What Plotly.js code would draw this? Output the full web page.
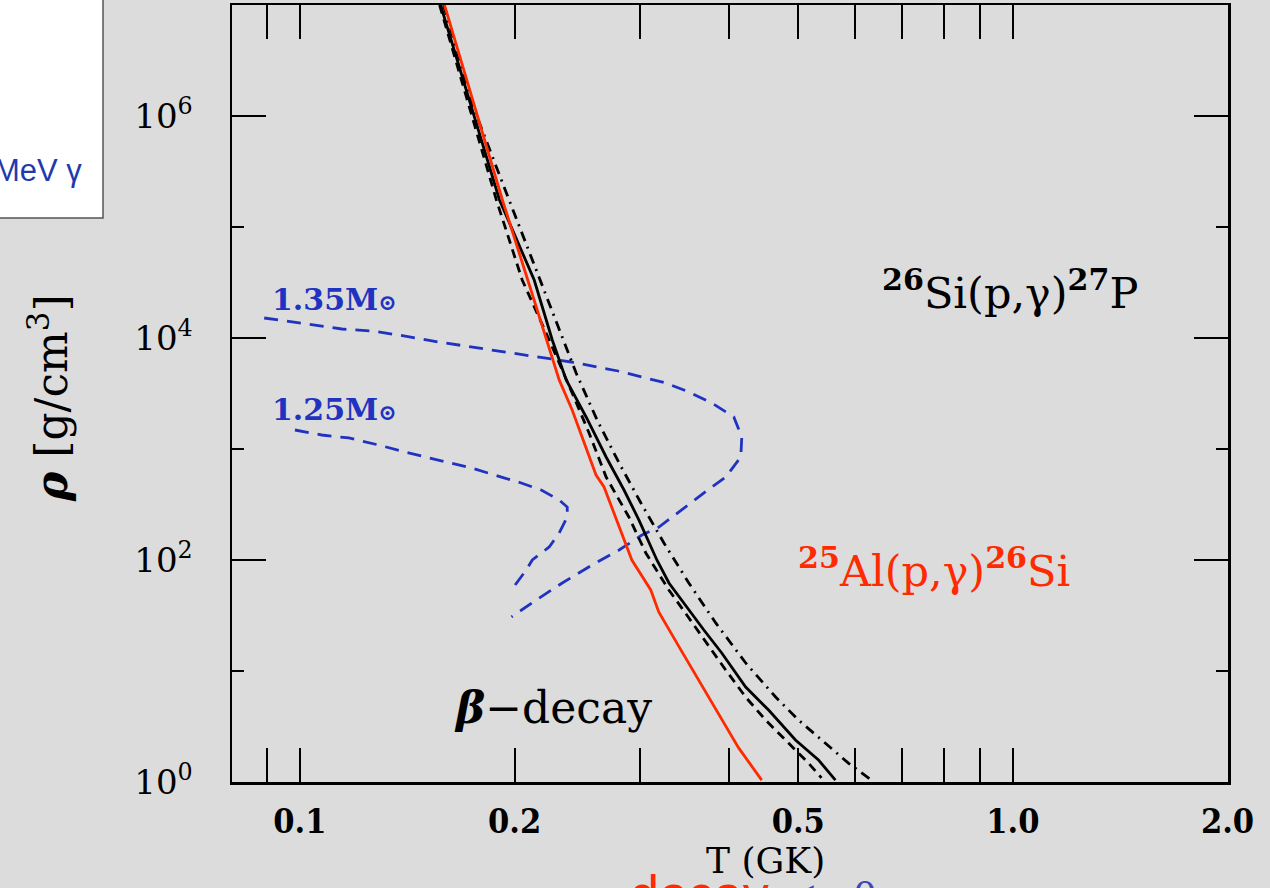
<!DOCTYPE html>
<html>
<head>
<meta charset="utf-8">
<script src="https://cdn.plot.ly/plotly-3.0.1.min.js"></script>
<style>
  html, body { margin: 0; padding: 0; background: #dcdcdc; }
  #chart { width: 1270px; height: 888px; }
</style>
</head>
<body>
<div id="chart"></div>
<script>
// ---- data (T in GK, rho in g/cm^3) ----
const redT   = [0.1595, 0.1729, 0.1923, 0.2098, 0.2215, 0.2310, 0.2409, 0.2602, 0.2670, 0.2921, 0.3105, 0.3186, 0.3422, 0.3602, 0.3929, 0.4124, 0.4443];
const redRho = [1.0e7, 1.71e6, 1.75e5, 3.0e4, 9.6e3, 4190, 2250, 583, 455, 100, 53.7, 34.0, 15.5, 8.83, 3.47, 2.03, 1.04];

const solidT   = [0.1575, 0.1729, 0.1905, 0.2131, 0.2259, 0.2363, 0.2520, 0.2688, 0.2848, 0.2989, 0.3167, 0.3293, 0.3511, 0.3686, 0.3905, 0.4219, 0.4543, 0.4955, 0.5337, 0.5637];
const solidRho = [1.0e7, 1.394e6, 1.751e5, 3.33e4, 9590, 4183, 1943, 847, 427, 229, 100, 62.1, 35.4, 23.4, 14.53, 7.17, 4.45, 2.39, 1.58, 1.04];

const dashT   = [0.1570, 0.1718, 0.1886, 0.2050, 0.2237, 0.2409, 0.2544, 0.2688, 0.2893, 0.3056, 0.3292, 0.3488, 0.3709, 0.3955, 0.4218, 0.4498, 0.4798, 0.5168, 0.5389];
const dashRho = [1.0e7, 1.394e6, 1.751e5, 3.33e4, 9590, 3195, 1394, 559, 244, 115.7, 53.7, 31.95, 18.25, 10.21, 5.83, 3.62, 2.39, 1.48, 1.09];

const dashdotT   = [0.1590, 0.1757, 0.1948, 0.2145, 0.2310, 0.2440, 0.2611, 0.2803, 0.3008, 0.3240, 0.3511, 0.3830, 0.4219, 0.4647, 0.5003, 0.5459, 0.5878, 0.6329];
const dashdotRho = [1.0e7, 1.133e6, 2.025e5, 4.10e4, 1.181e4, 4838, 1825, 748, 326, 142.3, 62.1, 27.1, 11.81, 5.83, 3.62, 2.25, 1.48, 1.04];

const m135T   = [0.0891, 0.0997, 0.1145, 0.1261, 0.1375, 0.1565, 0.1740, 0.1961, 0.2180, 0.2401, 0.2794, 0.3261, 0.3511, 0.3782, 0.4060, 0.4166, 0.4153, 0.3956, 0.3782, 0.3477, 0.3188, 0.3018, 0.2803, 0.2569, 0.2333, 0.2145, 0.1980];
const m135Rho = [15146, 13650, 12050, 11570, 10640, 9204, 8297, 7326, 6603, 6078, 5043, 3932, 3263, 2597, 1943, 1283, 847, 559, 455, 300, 198, 168, 123, 90.2, 62.1, 43.6, 30.7];

const m125T   = [0.0984, 0.1073, 0.1171, 0.1290, 0.1402, 0.1565, 0.1740, 0.1917, 0.2044, 0.2180, 0.2310, 0.2371, 0.2371, 0.2310, 0.2237, 0.2118, 0.2077, 0.1980];
const m125Rho = [1483, 1337, 1257, 1086, 940, 796, 674, 559, 494, 427, 347, 300, 244, 175, 131, 100, 81.3, 53.7];

const xTickVals  = [0.1, 0.2, 0.5, 1.0, 2.0];
const xTickText  = ['0.1', '0.2', '0.5', '1.0', '2.0'];
const xMinorVals = [0.09, 0.3, 0.4, 0.6, 0.7, 0.8, 0.9];
const yTickVals  = [1, 100, 1e4, 1e6];
const yTickText  = ['10<sup>0</sup>', '10<sup>2</sup>', '10<sup>4</sup>', '10<sup>6</sup>'];
const yMinorVals = [10, 1000, 1e5];

// ---- styling ----
const BLUE = '#1f33c0';
const RED = '#ff2a00';
const SERIF = 'DejaVu Serif, Liberation Serif, serif';

const traces = [
  { x: m135T, y: m135Rho, mode: 'lines', line: { color: BLUE, width: 2.8, dash: '14px,9px' } },
  { x: m125T, y: m125Rho, mode: 'lines', line: { color: BLUE, width: 2.8, dash: '14px,9px' } },
  { x: dashdotT, y: dashdotRho, mode: 'lines', line: { color: '#000', width: 2.8, dash: '10px,6px,2px,6px' } },
  { x: dashT, y: dashRho, mode: 'lines', line: { color: '#000', width: 2.8, dash: '9px,6px' } },
  { x: solidT, y: solidRho, mode: 'lines', line: { color: '#000', width: 2.8 } },
  { x: redT, y: redRho, mode: 'lines', line: { color: RED, width: 2.8 } }
];

const W = 996, H = 777, L = 232;       // plot area in pixels
const px = v => (v - L) / W;           // pixel x -> paper x
const py = v => (782 - v) / H;         // pixel y -> paper y

const layout = {
  width: 1270, height: 888,
  margin: { l: 232, r: 42, t: 5, b: 106, pad: 0 },
  paper_bgcolor: '#dcdcdc',
  plot_bgcolor: '#dcdcdc',
  showlegend: false,
  xaxis: {
    type: 'log',
    range: [Math.log10(0.0803), Math.log10(2.003)],
    tickmode: 'array', tickvals: xTickVals, ticktext: xTickText,
    ticks: 'inside', ticklen: 34, tickwidth: 2, tickcolor: '#000',
    minor: { tickmode: 'array', tickvals: xMinorVals, ticks: 'inside', ticklen: 34, tickwidth: 2, tickcolor: '#000', showgrid: false },
    showline: true, linecolor: '#000', linewidth: 2.5, mirror: 'ticks',
    showgrid: false, zeroline: false,
    ticklabelstandoff: 8,
    tickfont: { family: 'DejaVu Serif Condensed, DejaVu Serif, serif', size: 34, color: '#000', weight: 'bold' }
  },
  yaxis: {
    type: 'log',
    range: [0, 7],
    tickmode: 'array', tickvals: yTickVals, ticktext: yTickText,
    ticks: 'inside', ticklen: 34, tickwidth: 2, tickcolor: '#000',
    minor: { tickmode: 'array', tickvals: yMinorVals, ticks: 'inside', ticklen: 12, tickwidth: 2, tickcolor: '#000', showgrid: false },
    showline: true, linecolor: '#000', linewidth: 2.5, mirror: 'ticks',
    showgrid: false, zeroline: false,
    ticklabelstandoff: 30,
    tickfont: { family: SERIF, size: 34, color: '#000' }
  },
  shapes: [
    { type: 'rect', xref: 'paper', yref: 'paper', x0: px(-10), x1: px(103), y0: py(218), y1: py(-10),
      fillcolor: '#ffffff', line: { color: '#555', width: 1.5 }, layer: 'above' }
  ],
  annotations: [
    { xref: 'paper', yref: 'paper', x: px(84), y: py(170), xanchor: 'right', yanchor: 'middle', showarrow: false,
      text: 'MeV γ', font: { family: 'Liberation Sans, Arial, sans-serif', size: 31, color: '#1f3ab0' } },
    { xref: 'paper', yref: 'paper', x: px(48), y: py(398), xanchor: 'center', yanchor: 'middle', showarrow: false, textangle: -90,
      text: '<b><i>ρ</i></b> [g/cm<sup>3</sup>]', font: { family: SERIF, size: 44, color: '#000' } },
    { xref: 'paper', yref: 'paper', x: px(765), y: py(860), xanchor: 'center', yanchor: 'middle', showarrow: false,
      text: 'T (GK)', font: { family: SERIF, size: 36, color: '#000' } },
    { xref: 'paper', yref: 'paper', x: px(699), y: py(894), xanchor: 'center', yanchor: 'middle', showarrow: false,
      text: 'decay', font: { family: 'Liberation Sans, Arial, sans-serif', size: 52, color: RED } },
    { xref: 'paper', yref: 'paper', x: px(788), y: py(896), xanchor: 'left', yanchor: 'middle', showarrow: false,
      text: '<= 0', font: { family: 'Liberation Serif, serif', size: 46, color: '#3d46b8' } },
    { xref: 'x', yref: 'y', x: Math.log10(0.0907), y: 4.35, xanchor: 'left', yanchor: 'middle', showarrow: false,
      text: '1.35M<span style="font-size:22px">⊙</span>', font: { family: SERIF, size: 30, color: BLUE, weight: 'bold' } },
    { xref: 'x', yref: 'y', x: Math.log10(0.0907), y: 3.36, xanchor: 'left', yanchor: 'middle', showarrow: false,
      text: '1.25M<span style="font-size:22px">⊙</span>', font: { family: SERIF, size: 30, color: BLUE, weight: 'bold' } },
    { xref: 'x', yref: 'y', x: Math.log10(0.652), y: 4.43, xanchor: 'left', yanchor: 'middle', showarrow: false,
      text: '<sup><b>26</b></sup>Si(p,γ)<sup><b>27</b></sup>P', font: { family: SERIF, size: 43, color: '#000' } },
    { xref: 'x', yref: 'y', x: Math.log10(0.497), y: 1.93, xanchor: 'left', yanchor: 'middle', showarrow: false,
      text: '<sup><b>25</b></sup>Al(p,γ)<sup><b>26</b></sup>Si', font: { family: SERIF, size: 43, color: RED } },
    { xref: 'x', yref: 'y', x: Math.log10(0.1632), y: 0.67, xanchor: 'left', yanchor: 'middle', showarrow: false,
      text: '<b><i>β</i></b>−decay', font: { family: SERIF, size: 44, color: '#000' } }
  ]
};

Plotly.newPlot('chart', traces, layout, { displayModeBar: false, staticPlot: true });
</script>
</body>
</html>
